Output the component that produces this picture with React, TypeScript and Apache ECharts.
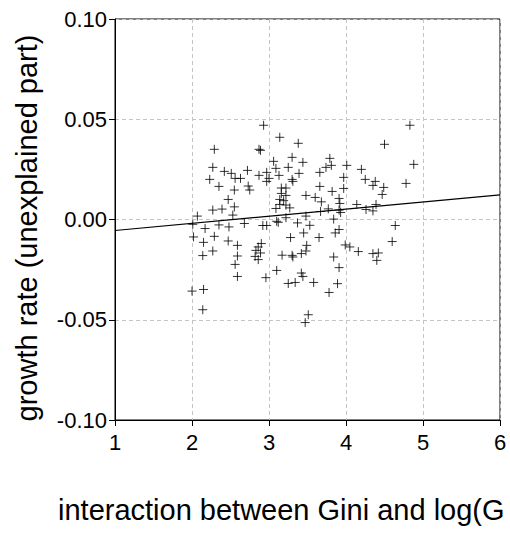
import React, { useEffect, useRef } from "react";
import * as echarts from "echarts";

const interactionX: number[] = [
  2.93, 3.14, 2.29, 2.87, 2.89, 3.06, 3.09, 2.27, 2.42, 2.51,
  2.72, 2.97, 3.13, 2.23, 2.56, 2.63, 2.87, 3.0, 2.97, 2.35,
  2.55, 2.73, 2.75, 3.16, 3.22, 3.16, 3.22, 3.14, 3.19, 3.14,
  3.22, 2.47, 2.27, 2.39, 2.55, 3.09, 2.07, 2.53, 3.25, 3.27,
  3.38, 4.5, 3.3, 3.44, 3.79, 3.74, 3.81, 4.01, 3.66, 3.39,
  4.2, 4.25, 3.97, 3.3, 3.31, 4.38, 4.35, 4.49, 3.66, 3.97,
  3.82, 3.48, 3.6, 3.91, 4.47, 3.68, 3.92, 4.14, 4.39, 3.77,
  3.91, 3.93, 4.26, 4.35, 3.67, 3.48, 3.22, 3.84, 4.83, 4.88,
  4.78, 4.64, 4.6, 2.01, 2.17, 2.35, 2.48, 2.68, 2.92, 2.97,
  3.1, 3.12, 2.02, 2.29, 2.15, 2.47, 2.59, 2.86, 2.9, 2.83,
  2.89, 2.27, 2.14, 2.59, 2.82, 2.86, 3.17, 2.56, 3.1, 2.59,
  2.96, 3.25, 2.0, 2.15, 2.14, 3.37, 3.53, 3.91, 3.86, 3.45,
  3.28, 3.65, 3.49, 3.48, 3.99, 4.05, 4.16, 4.35, 4.42, 4.4,
  3.3, 3.31, 3.42, 3.84, 3.91, 3.42, 3.44, 3.34, 3.58, 3.89,
  3.78, 3.51, 3.47,
];

const growthY: number[] = [
  0.047, 0.041, 0.035, 0.035, 0.0345, 0.029, 0.0255, 0.026, 0.024, 0.023,
  0.0245, 0.0235, 0.022, 0.02, 0.0205, 0.0205, 0.022, 0.0205, 0.019, 0.0165,
  0.0147, 0.0167, 0.0147, 0.0157, 0.0157, 0.013, 0.012, 0.01, 0.0094, 0.0075,
  0.0072, 0.01, 0.0047, 0.0052, 0.0063, 0.0055, 0.0017, 0.0022, 0.026, 0.0058,
  0.038, 0.0375, 0.031, 0.0285, 0.0305, 0.026, 0.027, 0.027, 0.0235, 0.023,
  0.025, 0.02, 0.021, 0.02, 0.019, 0.019, 0.017, 0.016, 0.0165, 0.0155,
  0.014, 0.012, 0.011, 0.0105, 0.0125, 0.0088, 0.008, 0.0075, 0.0075, 0.0053,
  0.0047, 0.0035, 0.005, 0.0043, 0.004, 0.0017, 0.0009, 0.0002, 0.047, 0.0275,
  0.018, -0.003, -0.011, -0.0024, -0.0045, -0.0027, -0.0037, -0.002, -0.003, -0.003,
  -0.0009, -0.0014, -0.0087, -0.0084, -0.0114, -0.0107, -0.0129, -0.0137, -0.012, -0.0154,
  -0.0167, -0.0157, -0.018, -0.0182, -0.0184, -0.02, -0.0178, -0.0224, -0.0254, -0.0284,
  -0.029, -0.0319, -0.0357, -0.0349, -0.045, -0.0017, -0.0029, -0.005, -0.0067, -0.0067,
  -0.009, -0.009, -0.0129, -0.0157, -0.0127, -0.0137, -0.016, -0.017, -0.0167, -0.0204,
  -0.0179, -0.0187, -0.017, -0.0187, -0.024, -0.0267, -0.0284, -0.0314, -0.0314, -0.032,
  -0.0364, -0.0475, -0.0514,
];

const fitLineX: number[] = [1, 6];
const fitLineY: number[] = [-0.0055, 0.0123];

const yTitle = "growth rate (unexplained part)";
const xTitle = "interaction between Gini and log(G";

const FONT = '"Liberation Sans", Arial, sans-serif';

export default function App() {
  const ref = useRef<HTMLDivElement>(null);

  useEffect(() => {
    if (!ref.current) return;
    const chart = echarts.init(ref.current, undefined, { renderer: "svg" });
    const scatterData = interactionX.map((x, i) => [x, growthY[i]]);
    const lineData = fitLineX.map((x, i) => [x, fitLineY[i]]);

    chart.setOption({
      animation: false,
      backgroundColor: "#ffffff",
      grid: {
        left: 115,
        right: 10,
        top: 19,
        bottom: 113,
        show: true,
        borderColor: "#000",
        borderWidth: 1,
        backgroundColor: "transparent",
      },
      xAxis: {
        type: "value",
        min: 1,
        max: 6,
        interval: 1,
        axisLine: { show: true, onZero: false, lineStyle: { color: "#000", width: 1 } },
        axisTick: { show: true, length: 6, lineStyle: { color: "#000" } },
        axisLabel: { color: "#000", fontSize: 22, fontFamily: FONT, margin: 11 },
        splitLine: { show: true, lineStyle: { color: "#c4c4c4", type: [4, 3], width: 1 } },
      },
      yAxis: {
        type: "value",
        min: -0.1,
        max: 0.1,
        interval: 0.05,
        axisLine: { show: true, onZero: false, lineStyle: { color: "#000", width: 1 } },
        axisTick: { show: true, length: 6, lineStyle: { color: "#000" } },
        axisLabel: {
          color: "#000",
          fontSize: 22,
          fontFamily: FONT,
          margin: 8,
          formatter: (v: number) => (Math.abs(v) < 1e-9 ? "0.00" : v.toFixed(2)),
        },
        splitLine: { show: true, lineStyle: { color: "#c4c4c4", type: [4, 3], width: 1 } },
      },
      graphic: [
        {
          type: "text",
          x: 27,
          y: 228,
          rotation: Math.PI / 2,
          style: {
            text: yTitle,
            font: `29px ${FONT}`,
            fill: "#000",
            textAlign: "center",
            textVerticalAlign: "middle",
          },
        },
        {
          type: "text",
          x: 58,
          y: 510,
          style: {
            text: xTitle,
            font: `29px ${FONT}`,
            fill: "#000",
            textAlign: "left",
            textVerticalAlign: "middle",
          },
        },
      ],
      series: [
        {
          type: "scatter",
          data: scatterData,
          symbol: "path://M0,5L10,5M5,0L5,10",
          symbolSize: 9,
          itemStyle: { color: "none", borderColor: "#000", borderWidth: 1 },
          z: 3,
        },
        {
          type: "line",
          data: lineData,
          showSymbol: false,
          symbol: "none",
          lineStyle: { color: "#000", width: 1.2 },
          z: 4,
        },
      ],
    });
    return () => chart.dispose();
  }, []);

  return (
    <div
      ref={ref}
      style={{ position: "fixed", left: 0, top: 0, width: 510, height: 533 }}
    />
  );
}
